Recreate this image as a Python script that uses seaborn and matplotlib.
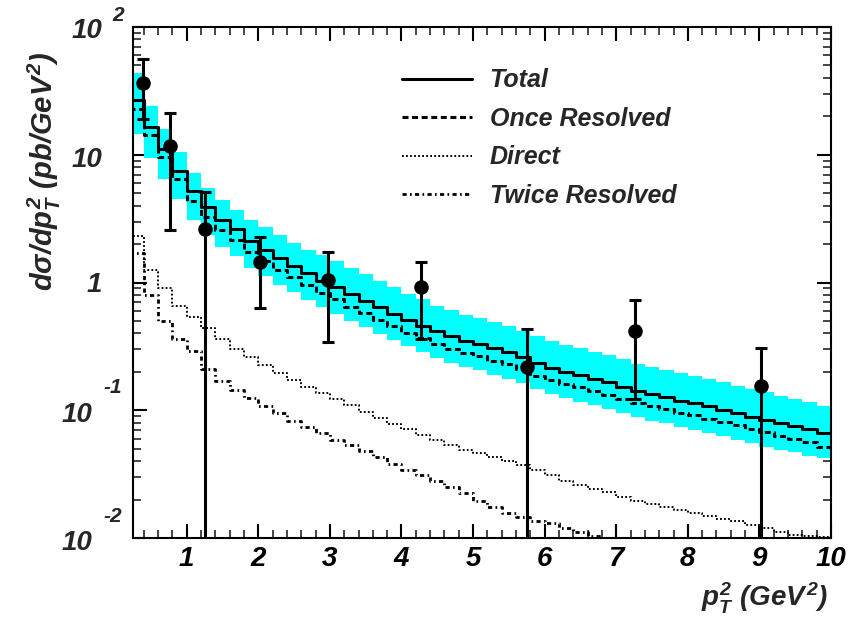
import numpy as np
import pandas as pd
import matplotlib
matplotlib.use("Agg")
import matplotlib.pyplot as plt
from matplotlib.ticker import MultipleLocator, LogLocator, NullFormatter, FixedLocator, FixedFormatter
import seaborn as sns

# ---------------- data ----------------
bin_edges = np.round(np.arange(0.2, 10.0001, 0.2), 2)   # 49 bins of width 0.2

total = [27, 16.5, 11, 7.5, 5.2, 3.9, 3.1, 2.6, 2.1, 1.8, 1.55, 1.35, 1.18, 1.03, 0.92,
         0.81, 0.72, 0.64, 0.57, 0.51, 0.46, 0.415, 0.38, 0.35, 0.33, 0.305, 0.285, 0.262,
         0.235, 0.215, 0.20, 0.188, 0.176, 0.165, 0.153, 0.142, 0.133, 0.127, 0.119, 0.113,
         0.107, 0.101, 0.095, 0.089, 0.084, 0.079, 0.075, 0.071, 0.066]
once_resolved = [23, 14.4, 9.6, 6.5, 4.37, 3.25, 2.57, 2.15, 1.72, 1.47, 1.26, 1.095, 0.953,
                 0.827, 0.739, 0.648, 0.575, 0.51, 0.454, 0.405, 0.365, 0.329, 0.302, 0.279,
                 0.265, 0.245, 0.229, 0.211, 0.187, 0.171, 0.16, 0.151, 0.142, 0.132, 0.123,
                 0.114, 0.107, 0.102, 0.095, 0.091, 0.086, 0.081, 0.076, 0.071, 0.067, 0.063,
                 0.060, 0.056, 0.052]
direct = [2.3, 1.25, 0.9, 0.65, 0.54, 0.44, 0.36, 0.30, 0.26, 0.225, 0.195, 0.172, 0.153,
          0.137, 0.122, 0.109, 0.097, 0.087, 0.078, 0.071, 0.064, 0.058, 0.053, 0.049, 0.046,
          0.043, 0.040, 0.037, 0.034, 0.031, 0.028, 0.026, 0.024, 0.023, 0.021, 0.0195, 0.0185,
          0.0175, 0.0166, 0.0158, 0.0150, 0.0142, 0.0135, 0.0126, 0.0120, 0.0112, 0.0106,
          0.0103, 0.0101]
twice_resolved = [1.7, 0.8, 0.5, 0.36, 0.29, 0.21, 0.17, 0.145, 0.124, 0.108, 0.095, 0.083,
                  0.074, 0.066, 0.059, 0.053, 0.048, 0.043, 0.038, 0.034, 0.031, 0.028, 0.025,
                  0.0225, 0.0195, 0.0175, 0.0158, 0.0145, 0.0137, 0.0130, 0.0120, 0.0112,
                  0.0104, 0.0097, 0.0090, 0.0085, 0.0080, 0.0075, 0.0071, 0.0067, 0.0063,
                  0.0060, 0.0057, 0.0054, 0.0051, 0.0049, 0.0046, 0.0044, 0.0042]
band_high = [44, 24, 16, 10.5, 7.2, 5.5, 4.4, 3.7, 3.1, 2.7, 2.35, 2.05, 1.8, 1.65, 1.47, 1.3,
             1.16, 1.03, 0.92, 0.82, 0.74, 0.66, 0.605, 0.56, 0.525, 0.49, 0.455, 0.42, 0.38,
             0.35, 0.325, 0.305, 0.287, 0.27, 0.25, 0.232, 0.218, 0.207, 0.195, 0.185, 0.175,
             0.166, 0.156, 0.146, 0.138, 0.13, 0.123, 0.116, 0.108]
band_low = [14.5, 9.5, 6.5, 4.5, 3.1, 2.35, 1.9, 1.6, 1.3, 1.12, 0.96, 0.84, 0.73, 0.64, 0.57,
            0.5, 0.445, 0.395, 0.353, 0.316, 0.285, 0.257, 0.236, 0.217, 0.205, 0.19, 0.177,
            0.163, 0.146, 0.134, 0.124, 0.117, 0.109, 0.102, 0.095, 0.088, 0.083, 0.079, 0.074,
            0.07, 0.066, 0.063, 0.059, 0.055, 0.052, 0.049, 0.047, 0.044, 0.042]

pt_x = [0.39, 0.77, 1.26, 2.02, 2.98, 4.27, 5.76, 7.26, 9.02]
pt_y = [36.3, 11.7, 2.61, 1.46, 1.05, 0.927, 0.219, 0.417, 0.156]
pt_hi = [55.9, 21.1, 5.14, 2.28, 1.74, 1.46, 0.43, 0.73, 0.309]
pt_lo = [19.0, 2.58, 0.001, 0.63, 0.344, 0.36, 0.001, 0.122, 0.001]

x_ticks = [1, 2, 3, 4, 5, 6, 7, 8, 9, 10]
x_ticklabels = ["1", "2", "3", "4", "5", "6", "7", "8", "9", "10"]

# ---------------- style ----------------
sns.set_theme(style="ticks")
plt.rcParams["font.family"] = ["Liberation Sans", "DejaVu Sans"]
plt.rcParams["font.weight"] = "bold"
plt.rcParams["font.style"] = "italic"
plt.rcParams["mathtext.fontset"] = "custom"
for k in ("rm", "it", "bf", "sf"):
    plt.rcParams["mathtext." + k] = "Liberation Sans:bold:italic"
plt.rcParams["lines.scale_dashes"] = False

fig = plt.figure(figsize=(8.54, 6.25), dpi=100)
W, H = 854, 625
ax = fig.add_axes([133 / W, 1 - 538 / H, (831 - 133) / W, (538 - 27) / H])

# step-histogram table (last value repeated for the closing edge)
def ext(v):
    return list(v) + [v[-1]]

df = pd.DataFrame({
    "edge": bin_edges,
    "total": ext(total),
    "once": ext(once_resolved),
    "direct": ext(direct),
    "twice": ext(twice_resolved),
    "lo": ext(band_low),
    "hi": ext(band_high),
})

ax.fill_between(df["edge"], df["lo"], df["hi"], step="post", color="#00FFFF", lw=0, zorder=1)

sns.lineplot(data=df, x="edge", y="total", ax=ax, drawstyle="steps-post", color="black",
             lw=2.2, estimator=None, sort=False, label="Total", zorder=3)
sns.lineplot(data=df, x="edge", y="once", ax=ax, drawstyle="steps-post", color="black",
             lw=2.2, linestyle=(0, (4.3, 2.6)), estimator=None, sort=False,
             label="Once Resolved", zorder=3)
sns.lineplot(data=df, x="edge", y="direct", ax=ax, drawstyle="steps-post", color="black",
             lw=1.4, linestyle=(0, (1.3, 1.6)), estimator=None, sort=False,
             label="Direct", zorder=3)
sns.lineplot(data=df, x="edge", y="twice", ax=ax, drawstyle="steps-post", color="black",
             lw=2.0, linestyle=(0, (3.0, 2.4, 1.2, 2.4)), estimator=None, sort=False,
             label="Twice Resolved", zorder=3)

pts = pd.DataFrame({"x": pt_x, "y": pt_y, "lo": pt_lo, "hi": pt_hi})
ax.errorbar(pts["x"], pts["y"], yerr=[pts["y"] - pts["lo"], pts["hi"] - pts["y"]],
            fmt="none", ecolor="black", elinewidth=2.2, capsize=4.6, capthick=2.2, zorder=4)
sns.scatterplot(data=pts, x="x", y="y", ax=ax, color="black", s=110, edgecolor="black",
                linewidth=0, zorder=5, legend=False)

ax.set_yscale("log")
ax.set_xlim(0.25, 10)
ax.set_ylim(1e-2, 1e2)
ax.set_xlabel("")
ax.set_ylabel("")

ax.xaxis.set_major_locator(FixedLocator(x_ticks))
ax.xaxis.set_major_formatter(FixedFormatter(x_ticklabels))
ax.xaxis.set_minor_locator(MultipleLocator(0.2))
ax.yaxis.set_major_locator(LogLocator(base=10, numticks=10))
ax.yaxis.set_minor_locator(LogLocator(base=10, subs=np.arange(2, 10), numticks=20))
ax.yaxis.set_major_formatter(NullFormatter())
ax.yaxis.set_minor_formatter(NullFormatter())

ax.tick_params(which="major", direction="in", length=10, width=1.5, top=True, right=True,
               labelsize=20, pad=6, colors="black")
ax.tick_params(which="minor", direction="in", length=5.5, width=1.2, top=True, right=True)
for s in ax.spines.values():
    s.set_linewidth(1.5)
    s.set_color("black")

# y tick labels in ROOT style (mantissa + raised exponent)
px = 0.72  # points per pixel
def ylab(val, txt, dx_px, dy_px, size, ha="right"):
    ax.annotate(txt, xy=(0, val), xycoords=("axes fraction", "data"),
                xytext=(dx_px * px, dy_px * px), textcoords="offset points",
                ha=ha, va="baseline", fontsize=size, annotation_clip=False)

ylab(1e2, "10", -31, -11, 20)
ylab(1e2, "2", -21, 6, 15, ha="left")
ylab(1e1, "10", -31, -12, 20)
ylab(1e0, "1", -31, -10, 20)
ylab(1e-1, "10", -41, -12, 20)
ylab(1e-1, "-1", -30, 17, 15, ha="left")
ylab(1e-2, "10", -41, -12, 20)
ylab(1e-2, "-2", -30, 16, 15, ha="left")

fig.text(44 / W, 1 - 171 / H, r"$d\sigma/dp_{T}^{2}\ (pb/GeV^{2})$", rotation=90,
         ha="center", va="center", fontsize=21)
fig.text(828 / W, 1 - 598 / H, r"$p_{T}^{2}\ (GeV^{2})$", ha="right", va="center",
         fontsize=20)

handles, labels = ax.get_legend_handles_labels()
order = ["Total", "Once Resolved", "Direct", "Twice Resolved"]
hmap = dict(zip(labels, handles))
ax.legend([hmap[o] for o in order], order, loc="upper left",
          bbox_to_anchor=(0.385, 0.919), frameon=False, fontsize=18, borderpad=0,
          borderaxespad=0, handlelength=2.8, handletextpad=0.72, labelspacing=0.58)

fig.savefig("out.png", dpi=100)
